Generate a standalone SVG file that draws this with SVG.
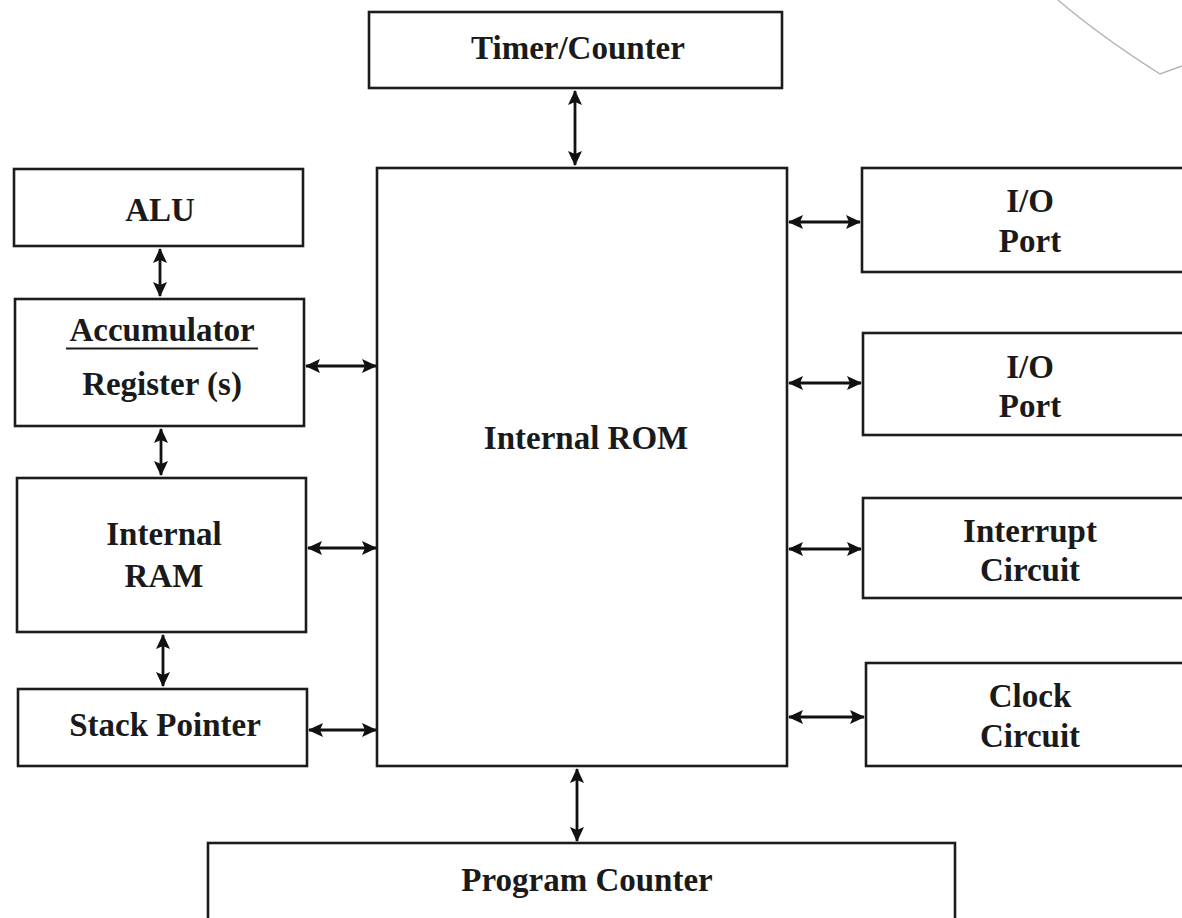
<svg xmlns="http://www.w3.org/2000/svg" width="1182" height="918" viewBox="0 0 1182 918">
  <style>
    .box { fill: #ffffff; stroke: #1c1c1c; stroke-width: 2.6; }
    .lbl { font-family: "Liberation Serif", "Times New Roman", serif; font-weight: bold; font-size: 33px; fill: #1a1a1a; text-anchor: middle; }
    .link { stroke: #111111; stroke-width: 2.8; fill: none; marker-start: url(#head); marker-end: url(#head); }
  </style>
  <defs>
    <marker id="head" viewBox="0 0 15 14" refX="14" refY="7" markerWidth="15" markerHeight="14" markerUnits="userSpaceOnUse" orient="auto-start-reverse">
      <path d="M0,0 L15,7 L0,14 L3,7 Z" fill="#111111"/>
    </marker>
  </defs>
  <rect width="1182" height="918" fill="#ffffff"/>

  <!-- faint pencil stroke, upper right -->
  <path d="M1058,0 Q1100,36 1160,74 L1182,66" fill="none" stroke="#9a9a9a" stroke-width="1.4" opacity="0.75"/>

  <g id="timer-counter">
    <rect class="box" x="369" y="12" width="413" height="76"/>
    <text class="lbl" x="578" y="59">Timer/Counter</text>
  </g>

  <g id="internal-rom">
    <rect class="box" x="377" y="168" width="410" height="598"/>
    <text class="lbl" x="586" y="449">Internal ROM</text>
  </g>

  <g id="alu">
    <rect class="box" x="14" y="169" width="289" height="77"/>
    <text class="lbl" x="160" y="221">ALU</text>
  </g>

  <g id="accumulator">
    <rect class="box" x="15" y="299" width="289" height="127"/>
    <text class="lbl" x="162" y="341">Accumulator</text>
    <line x1="66" y1="348.5" x2="258" y2="348.5" stroke="#1a1a1a" stroke-width="2.2"/>
    <text class="lbl" x="162" y="395">Register (s)</text>
  </g>

  <g id="internal-ram">
    <rect class="box" x="17" y="478" width="289" height="154"/>
    <text class="lbl" x="164" y="545">Internal</text>
    <text class="lbl" x="164" y="587">RAM</text>
  </g>

  <g id="stack-pointer">
    <rect class="box" x="18" y="689" width="289" height="77"/>
    <text class="lbl" x="165" y="736">Stack Pointer</text>
  </g>

  <g id="io-port-1">
    <rect class="box" x="862" y="168" width="340" height="104"/>
    <text class="lbl" x="1030" y="212">I/O</text>
    <text class="lbl" x="1030" y="252">Port</text>
  </g>

  <g id="io-port-2">
    <rect class="box" x="863" y="333" width="340" height="102"/>
    <text class="lbl" x="1030" y="378">I/O</text>
    <text class="lbl" x="1030" y="417">Port</text>
  </g>

  <g id="interrupt-circuit">
    <rect class="box" x="863" y="498" width="340" height="100"/>
    <text class="lbl" x="1030" y="542">Interrupt</text>
    <text class="lbl" x="1030" y="581">Circuit</text>
  </g>

  <g id="clock-circuit">
    <rect class="box" x="866" y="663" width="340" height="103"/>
    <text class="lbl" x="1030" y="707">Clock</text>
    <text class="lbl" x="1030" y="747">Circuit</text>
  </g>

  <g id="program-counter">
    <rect class="box" x="208" y="843" width="747" height="90"/>
    <text class="lbl" x="587" y="891">Program Counter</text>
  </g>

  <g id="connectors">
    <line class="link" x1="575" y1="91" x2="575" y2="165"/>
    <line class="link" x1="160" y1="249" x2="160" y2="296"/>
    <line class="link" x1="161" y1="429" x2="161" y2="475"/>
    <line class="link" x1="163" y1="635" x2="163" y2="686"/>
    <line class="link" x1="306" y1="366" x2="376" y2="366"/>
    <line class="link" x1="308" y1="548" x2="376" y2="548"/>
    <line class="link" x1="309" y1="730" x2="376" y2="730"/>
    <line class="link" x1="789" y1="222" x2="860" y2="222"/>
    <line class="link" x1="789" y1="383" x2="861" y2="383"/>
    <line class="link" x1="789" y1="549" x2="861" y2="549"/>
    <line class="link" x1="789" y1="717" x2="864" y2="717"/>
    <line class="link" x1="577" y1="769" x2="577" y2="841"/>
  </g>
</svg>
